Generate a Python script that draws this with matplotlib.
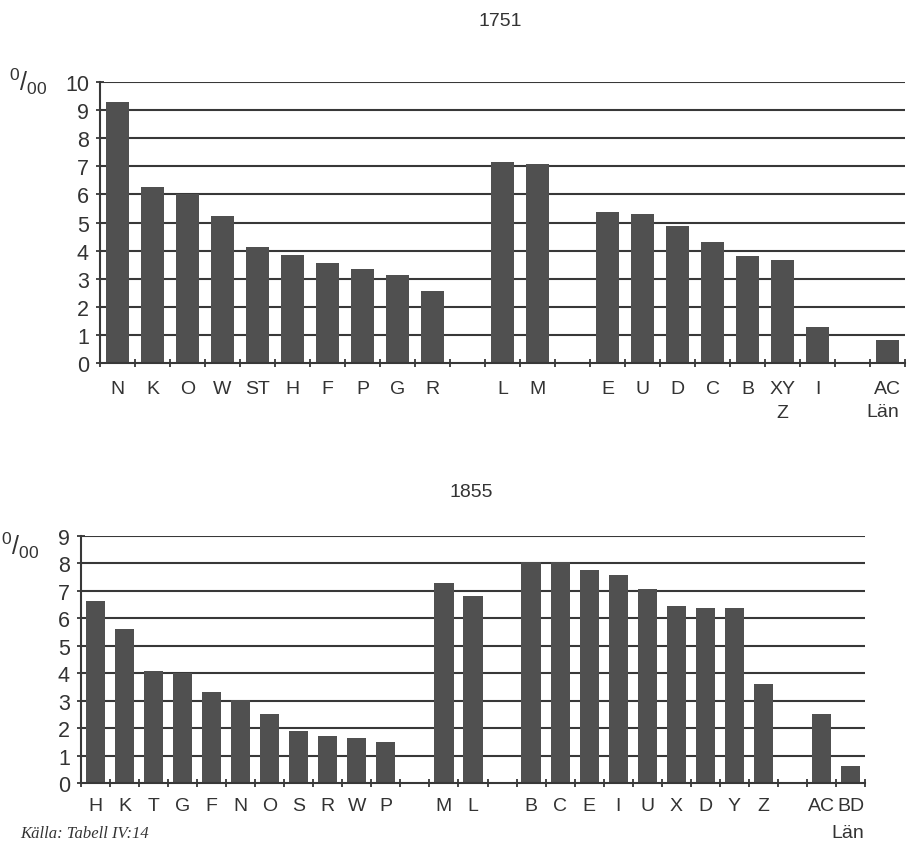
import numpy as np
import matplotlib
matplotlib.use("Agg")
import matplotlib.pyplot as plt

plt.rcParams["font.family"] = ["Liberation Sans", "DejaVu Sans"]
plt.rcParams["mathtext.fontset"] = "custom"
plt.rcParams["mathtext.rm"] = "Liberation Sans"
plt.rcParams["mathtext.it"] = "Liberation Sans"

# 1751 – empty strings are gaps between the groups
labels_1751 = ["N", "K", "O", "W", "ST", "H", "F", "P", "G", "R", "",
               "L", "M", "",
               "E", "U", "D", "C", "B", "XY\nZ", "I", "",
               "AC"]
values_1751 = [9.3, 6.25, 6.0, 5.25, 4.13, 3.83, 3.55, 3.35, 3.12, 2.55, None,
               7.14, 7.08, None,
               5.36, 5.3, 4.86, 4.32, 3.8, 3.65, 1.27, None,
               0.83]

# 1855
labels_1855 = ["H", "K", "T", "G", "F", "N", "O", "S", "R", "W", "P", "",
               "M", "L", "",
               "B", "C", "E", "I", "U", "X", "D", "Y", "Z", "",
               "AC", "BD"]
values_1855 = [6.62, 5.61, 4.08, 4.0, 3.31, 3.04, 2.52, 1.91, 1.72, 1.66, 1.49, None,
               7.3, 6.8, None,
               8.03, 8.03, 7.76, 7.59, 7.07, 6.45, 6.39, 6.39, 3.61, None,
               2.53, 0.62]

bar_color = "#505050"
line_color = "#383838"
text_color = "#333333"

fig = plt.figure(figsize=(9.07, 8.45), dpi=100)


def draw(ax, labels, values, ymax, pad):
    n = len(labels)
    x = np.arange(n)
    h = [v if v is not None else 0 for v in values]
    ax.bar(x, h, width=0.66, color=bar_color, zorder=3)
    ax.set_xlim(-0.5, n - 0.5)
    ax.set_ylim(0, ymax)
    for yv in range(1, ymax + 1):
        ax.axhline(yv, color=line_color, lw=1.5, zorder=1)
    ax.set_yticks(range(ymax + 1))
    ax.set_xticks(x)
    ax.set_xticklabels(labels, fontsize=14, color=text_color, linespacing=1.6)
    ax.set_xticks(np.arange(n + 1) - 0.5, minor=True)
    ax.tick_params(axis="x", which="major", length=0, pad=pad)
    ax.tick_params(axis="x", which="minor", direction="inout", length=6,
                   width=1.3, color=line_color)
    ax.tick_params(axis="y", direction="inout", length=6, width=1.3,
                   color=line_color, labelsize=15.5, labelcolor=text_color, pad=5)
    for s in ["top", "right"]:
        ax.spines[s].set_visible(False)
    for s in ["left", "bottom"]:
        ax.spines[s].set_color(line_color)
        ax.spines[s].set_linewidth(1.5)
    ax.spines["bottom"].set_zorder(4)


ax1 = fig.add_axes([0.1103, 0.5692, 0.8875, 0.3325])
draw(ax1, labels_1751, values_1751, 10, 12)

ax2 = fig.add_axes([0.0893, 0.0718, 0.8644, 0.2930])
draw(ax2, labels_1855, values_1855, 9, 10)

fig.text(0.551, 1 - 22 / 845, "1751", ha="center", va="center",
         fontsize=14, color=text_color)
fig.text(0.520, 1 - 493 / 845, "1855", ha="center", va="center",
         fontsize=14, color=text_color)

fig.text(0.010, 1 - 82 / 845, r"$^{0}/_{00}$", ha="left", va="center",
         fontsize=18, color=text_color)
fig.text(0.001, 1 - 546 / 845, r"$^{0}/_{00}$", ha="left", va="center",
         fontsize=18, color=text_color)

fig.text(883 / 907, 1 - 413 / 845, "Län", ha="center", va="center",
         fontsize=14, color=text_color)
fig.text(848 / 907, 1 - 834 / 845, "Län", ha="center", va="center",
         fontsize=14, color=text_color)

fig.text(0.022, 1 - 842 / 845, "Källa: Tabell IV:14", ha="left", va="bottom",
         fontsize=12, style="italic", family="Liberation Serif",
         color=text_color)

fig.savefig("out.png", dpi=100, facecolor="white")
